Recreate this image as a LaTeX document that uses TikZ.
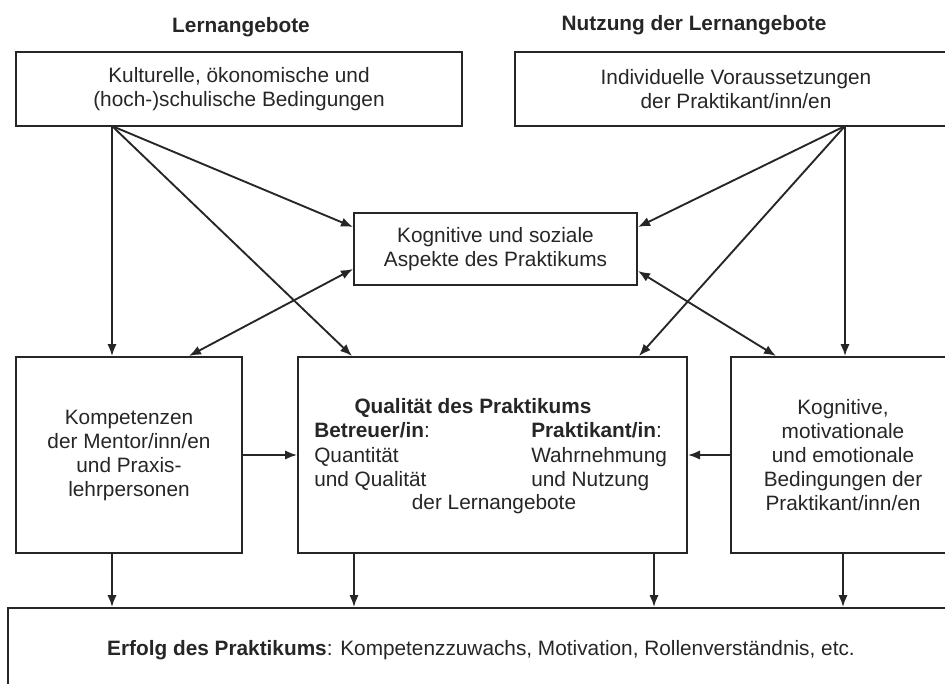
\documentclass[tikz,border=0pt]{standalone}
\usepackage{fontspec}
\setmainfont{Liberation Sans}
\usetikzlibrary{arrows.meta,calc}
\definecolor{ink}{gray}{0.15}
\begin{document}
\begin{tikzpicture}[x=0.75pt,y=-0.75pt,
  box/.style={draw=ink, line width=1.5pt, inner sep=0pt, align=center, text=ink, font=\fontsize{15.6}{18}\selectfont},
  txt/.style={inner sep=0pt, text=ink, font=\fontsize{15.6}{18}\selectfont},
  head/.style={inner sep=0pt, text=ink, font=\fontsize{15.6}{18}\selectfont\bfseries},
  arr/.style={draw=ink, -{Latex[length=9pt,width=7pt]}, line width=1.4pt},
  darr/.style={draw=ink, {Latex[length=9pt,width=7pt]}-{Latex[length=9pt,width=7pt]}, line width=1.4pt}]
\useasboundingbox (0,0) rectangle (945,684);
\clip (0,0) rectangle (945,684);
\fill[white] (0,0) rectangle (945,684);
% headings
\node[head] (h1) at (241,27) {Lernangebote};
\node[head] (h2) at (694,25) {Nutzung der Lernangebote};
% boxes
\node[box, minimum width=446*0.75pt, minimum height=74*0.75pt] (kult) at (239,89) {Kulturelle, ökonomische und\\(hoch-)schulische Bedingungen};
\node[box, minimum width=442*0.75pt, minimum height=74*0.75pt] (indiv) at (736,89) {Individuelle Voraussetzungen\\der Praktikant/inn/en};
\node[box, minimum width=283*0.75pt, minimum height=72*0.75pt] (kog) at (495.5,249) {Kognitive und soziale\\Aspekte des Praktikums};
\node[box, minimum width=226*0.75pt, minimum height=196*0.75pt] (komp) at (129,455) {Kompetenzen\\der Mentor/inn/en\\und Praxis-\\lehrpersonen};
\node[box, minimum width=389*0.75pt, minimum height=196*0.75pt] (qual) at (492.5,455) {};
\node[box, minimum width=224*0.75pt, minimum height=196*0.75pt] (bed) at (843,455) {Kognitive,\\motivationale\\und emotionale\\Bedingungen der\\Praktikant/inn/en};
\node[box, minimum width=946*0.75pt, minimum height=84*0.75pt] (erf) at (481,650) {\textbf{Erfolg des Praktikums}: Kompetenzzuwachs, Motivation, Rollenverständnis, etc.};
% text inside quality box
\node[txt, anchor=base] (qt) at (473,413) {\textbf{Qualität des Praktikums}};
\node[txt, anchor=base west] (bt) at (314,437) {\textbf{Betreuer/in}:};
\node[txt, anchor=base west] (pk) at (531,437) {\textbf{Praktikant/in}:};
\node[txt, anchor=base west] (q1) at (314,462) {Quantität};
\node[txt, anchor=base west] (q2) at (314,486) {und Qualität};
\node[txt, anchor=base west] (w1) at (531,462) {Wahrnehmung};
\node[txt, anchor=base west] (w2) at (531,486) {und Nutzung};
\node[txt, anchor=base] (dl) at (494,509) {der Lernangebote};
% sources
\coordinate (s1) at (112,126);
\coordinate (s2) at (845,126);
% left fan
\draw[arr] (s1) -- (komp.north -| s1);
\draw[arr] (s1) -- ($(kog.north west)+(0,15)$);
\draw[arr] (s1) -- ($(qual.north west)+(55,0)$);
\draw[darr] ($(kog.south west)+(0,-17)$) -- ($(komp.north west)+(174,0)$);
% right fan
\draw[arr] (s2) -- (bed.north -| s2);
\draw[arr] (s2) -- ($(kog.north east)+(0,15)$);
\draw[arr] (s2) -- ($(qual.north west)+(342,0)$);
\draw[darr] ($(kog.south east)+(0,-15)$) -- ($(bed.north west)+(46,0)$);
% horizontal
\draw[arr] (komp.east) -- (qual.west);
\draw[arr] (bed.west) -- (qual.east);
% down to result
\coordinate (d1) at ($(qual.south west)+(57,0)$);
\coordinate (d2) at ($(qual.south west)+(357,0)$);
\draw[arr] (komp.south -| s1) -- (erf.north -| s1);
\draw[arr] (d1) -- (d1 |- erf.north);
\draw[arr] (d2) -- (d2 |- erf.north);
\draw[arr] (bed.south) -- (bed.south |- erf.north);
\end{tikzpicture}
\end{document}
